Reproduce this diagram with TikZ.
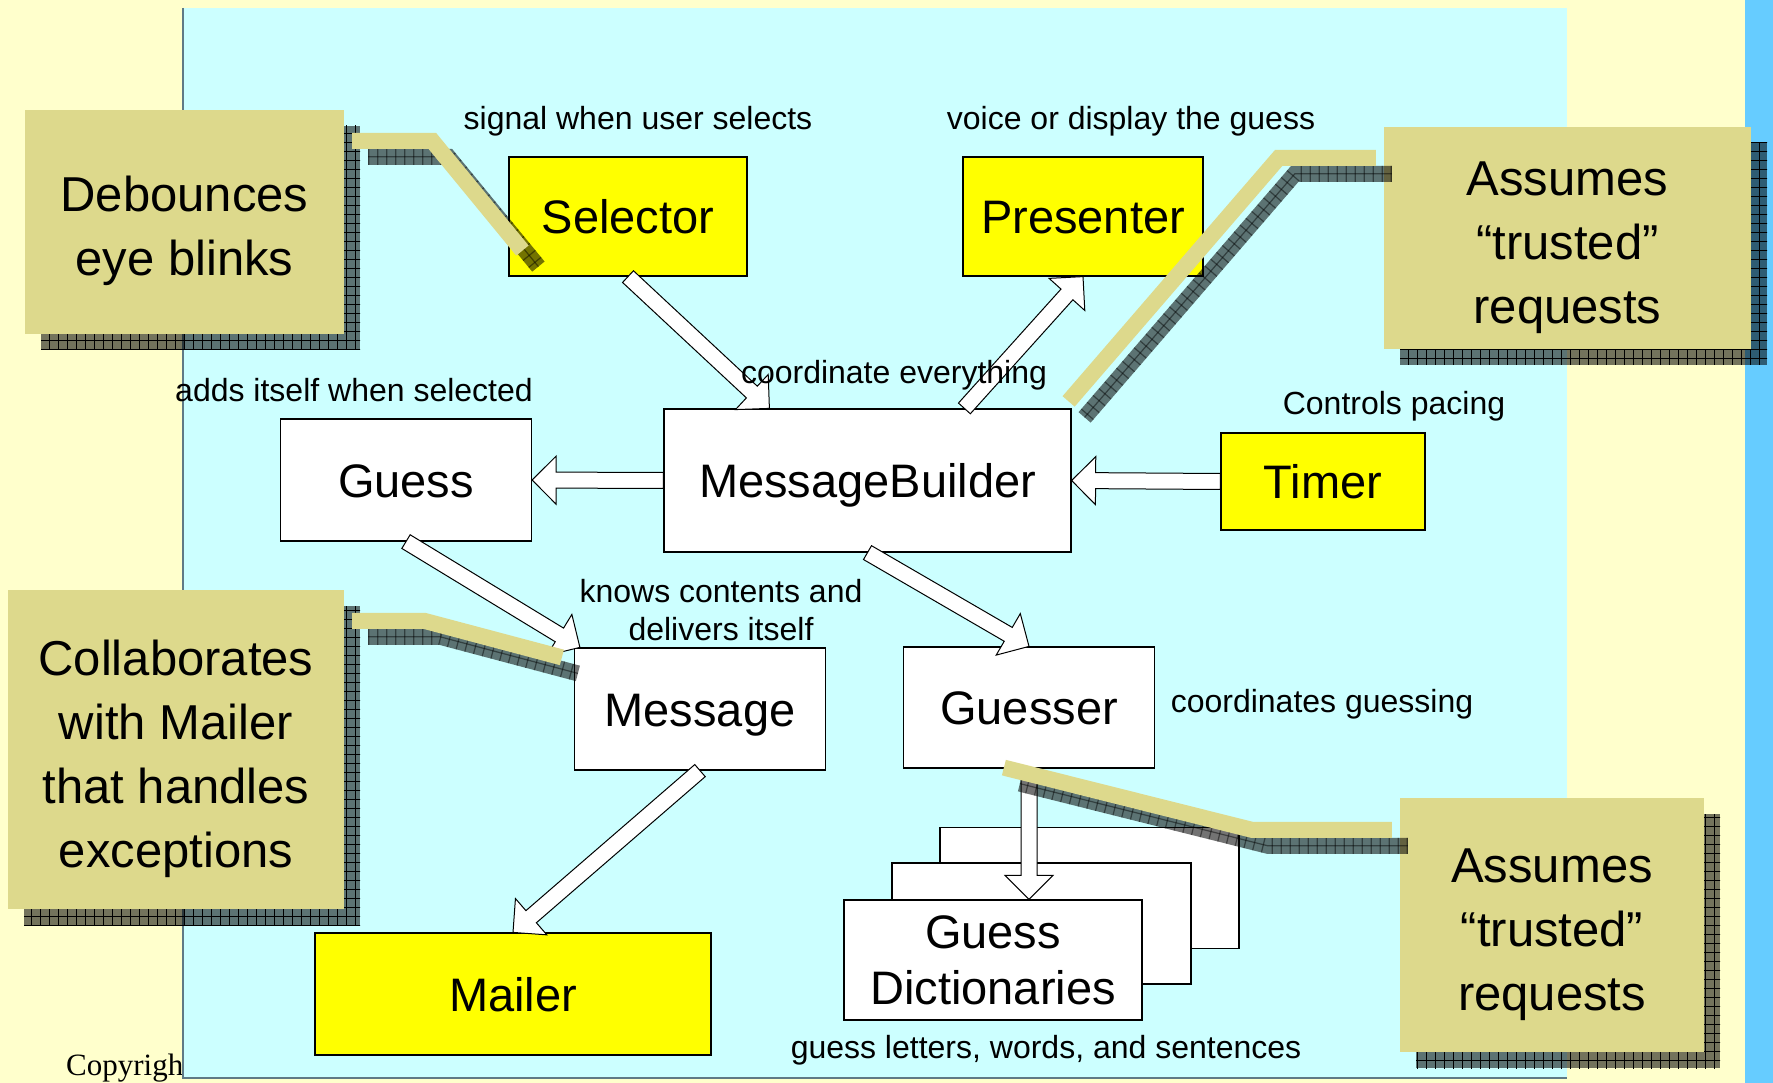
\documentclass[tikz,border=0pt]{standalone}
\usepackage{fontspec}
\setmainfont{Liberation Sans}
\newfontfamily\copyserif{Liberation Serif}
\usetikzlibrary{calc,patterns,shadows}

\definecolor{slidebg}{HTML}{FFFFCC}
\definecolor{panelbg}{HTML}{CCFFFF}
\definecolor{stripblue}{HTML}{66CCFF}
\definecolor{classyellow}{HTML}{FFFF00}
\definecolor{notekhaki}{HTML}{DDD98C}
\definecolor{panelrule}{HTML}{5F7A85}

% cross-hatched texture used in the callout shadows
\pgfdeclarepatternformonly{shadowgrid}{\pgfqpoint{-0.6pt}{-0.6pt}}{\pgfqpoint{9.6pt}{9.6pt}}{\pgfqpoint{9pt}{9pt}}{%
  \pgfsetlinewidth{1.2pt}%
  \pgfpathmoveto{\pgfqpoint{0pt}{4.5pt}}\pgfpathlineto{\pgfqpoint{9pt}{4.5pt}}%
  \pgfpathmoveto{\pgfqpoint{4.5pt}{0pt}}\pgfpathlineto{\pgfqpoint{4.5pt}{9pt}}%
  \pgfusepath{stroke}}

\newcommand\fntclass{\fontsize{47}{56}\selectfont}
\newcommand\fntnote{\fontsize{49}{64}\selectfont}
\newcommand\fntlabel{\fontsize{32}{38}\selectfont}
% extra height on the first line of a callout, lowering its text block
\newcommand\notetop{\rule{0pt}{54pt}}

\tikzset{
  classbox/.style={draw=black, line width=1.2pt, fill=white, inner sep=0pt,
    font=\fntclass, align=center},
  oneline/.style={text height=34pt, text depth=0pt},
  active/.style={fill=classyellow},
  note/.style={fill=notekhaki, inner sep=0pt, align=center, font=\fntnote,
    general shadow={fill=black, fill opacity=.55, shadow xshift=16pt, shadow yshift=-16pt},
    general shadow={pattern=shadowgrid, pattern color=black, fill opacity=.45,
      shadow xshift=16pt, shadow yshift=-16pt}},
  lbl/.style={font=\fntlabel, inner sep=0pt, anchor=base},
  arrowbody/.style={fill=white, draw=black, line width=1pt, line join=miter},
  leader/.style={draw=notekhaki, line width=16pt, line cap=butt, line join=miter},
  leadershadow/.style={draw=black, draw opacity=.55, line width=16pt, line cap=butt, line join=miter},
  leadergrid/.style={draw=black, draw opacity=.45, line width=16pt, line cap=butt, dash pattern=on 1.2pt off 7.8pt},
  leadercore/.style={draw=black, draw opacity=.45, line width=1.2pt}
}

% hollow block arrow from #1 to #2
\newcommand\blockarrow[2]{%
  \coordinate (ah) at ($(#2)!24pt!(#1)$);
  \filldraw[arrowbody] ($(#1)!8pt!90:(#2)$) -- ($(ah)!8pt!90:(#2)$)
    -- ($(ah)!24pt!90:(#2)$) -- (#2) -- ($(ah)!24pt!-90:(#2)$)
    -- ($(ah)!8pt!-90:(#2)$) -- ($(#1)!8pt!-90:(#2)$) -- cycle;}

% callout leader with its offset shadow: start, bend, end
\newcommand\calloutleader[3]{%
  \draw[leadershadow] ($(#1)+(16,16)$) -- ($(#2)+(16,16)$) -- ($(#3)+(16,16)$);
  \draw[leadergrid] ($(#1)+(16,16)$) -- ($(#2)+(16,16)$) -- ($(#3)+(16,16)$);
  \draw[leadercore] ($(#1)+(16,16)$) -- ($(#2)+(16,16)$) -- ($(#3)+(16,16)$);
  \draw[leader] (#1) -- (#2) -- (#3);}

\begin{document}
\begin{tikzpicture}[x=1pt, y=-1pt]
\useasboundingbox (0,0) rectangle (1773,1083);

% slide background
\fill[slidebg] (0,0) rectangle (1773,1083);
\fill[stripblue] (1745,0) rectangle (1773,1083);
\node[font=\copyserif\fontsize{31}{36}\selectfont, anchor=base west, inner sep=0pt] (copy) at (66,1075) {Copyright};

% diagram panel
\fill[panelbg] (183,8) rectangle (1567,1078);
\draw[panelrule, line width=1.5pt] (183,8) -- (183,1078) -- (1567,1078);

% classes
\node[classbox, oneline, active, minimum width=238pt, minimum height=119pt] (sel) at (628,216.5) {Selector};
\node[classbox, oneline, active, minimum width=240pt, minimum height=119pt] (pres) at (1083,216.5) {Presenter};
\node[classbox, oneline, minimum width=251pt, minimum height=122pt] (guess) at (406,480) {Guess};
\node[classbox, oneline, minimum width=407pt, minimum height=143pt] (mb) at (867.5,480.5) {MessageBuilder};
\node[classbox, oneline, active, minimum width=204pt, minimum height=97pt] (timer) at (1323,481.5) {Timer};
\node[classbox, oneline, minimum width=251pt, minimum height=122pt] (msg) at (700,709) {Message};
\node[classbox, oneline, minimum width=251pt, minimum height=121pt] (guesser) at (1029,707.5) {Guesser};
\node[classbox, oneline, active, minimum width=396pt, minimum height=122pt] (mailer) at (513,994) {Mailer};
\node[classbox, minimum width=299pt, minimum height=121pt] (dictC) at (1089.5,888) {};
\node[classbox, minimum width=299pt, minimum height=121pt] (dictB) at (1041.5,923.5) {};
\node[classbox, minimum width=298pt, minimum height=120pt] (dict) at (993,960) {Guess\\Dictionaries};

% collaborations
\coordinate (a1e) at ($(mb.north west)+(106,0)$);
\coordinate (a2s) at ($(mb.north west)+(301,0)$);
\coordinate (a5e) at ($(msg.north west)+(6,0)$);
\coordinate (a8e) at (guesser.south |- dict.north);
\blockarrow{sel.south}{a1e}
\blockarrow{a2s}{pres.south}
\blockarrow{mb.west}{guess.east}
\blockarrow{timer.west}{mb.east}
\blockarrow{guess.south}{a5e}
\blockarrow{mb.south}{guesser.north}
\blockarrow{msg.south}{mailer.north}
\blockarrow{guesser.south}{a8e}

% responsibilities
\node[lbl] (lsel) at (638,130) {signal when user selects};
\node[lbl] (lpres) at (1131,130) {voice or display the guess};
\node[lbl] (lguess) at (354,401) {adds itself when selected};
\node[lbl] (lmb) at (894,384) {coordinate everything};
\node[lbl] (ltimer) at (1394,414) {Controls pacing};
\node[font=\fntlabel, inner sep=0pt, anchor=north, align=center] (lmsg) at (721,579) {knows contents and\\delivers itself};
\node[lbl] (lguesser) at (1322,712) {coordinates guessing};
\node[lbl] (ldict) at (1046,1058) {guess letters, words, and sentences};

% callouts
\node[note, minimum width=319pt, minimum height=224pt] (noteA) at (184.5,222) {\notetop Debounces\\eye blinks};
\coordinate (lA1) at ($(noteA.north east)+(8,31)$);
\coordinate (lA2) at ($(lA1)+(80,0)$);
\coordinate (lA3) at ($(sel.south west)+(14,-26)$);
\calloutleader{lA1}{lA2}{lA3}

\node[note, minimum width=367pt, minimum height=222pt] (noteB) at (1567.5,238) {\notetop Assumes\\“trusted”\\requests};
\coordinate (lB1) at ($(noteB.north west)+(-8,31)$);
\coordinate (lB2) at ($(lB1)+(-97,0)$);
\coordinate (lB3) at ($(mb.north east)+(-3,-7)$);
\calloutleader{lB1}{lB2}{lB3}

\node[note, minimum width=336pt, minimum height=319pt] (noteC) at (176,749.5) {\notetop Collaborates\\with Mailer\\that handles\\exceptions};
\coordinate (lC1) at ($(noteC.north east)+(8,31)$);
\coordinate (lC2) at ($(lC1)+(72,0)$);
\coordinate (lC3) at ($(msg.north west)+(-12,10)$);
\calloutleader{lC1}{lC2}{lC3}

\node[note, minimum width=304pt, minimum height=254pt] (noteD) at (1552,925) {\notetop Assumes\\“trusted”\\requests};
\coordinate (lD1) at ($(noteD.north west)+(-8,32)$);
\coordinate (lD2) at ($(lD1)+(-140,0)$);
\coordinate (lD3) at ($(guesser.south west)+(101,-1)$);
\calloutleader{lD1}{lD2}{lD3}
\end{tikzpicture}
\end{document}
